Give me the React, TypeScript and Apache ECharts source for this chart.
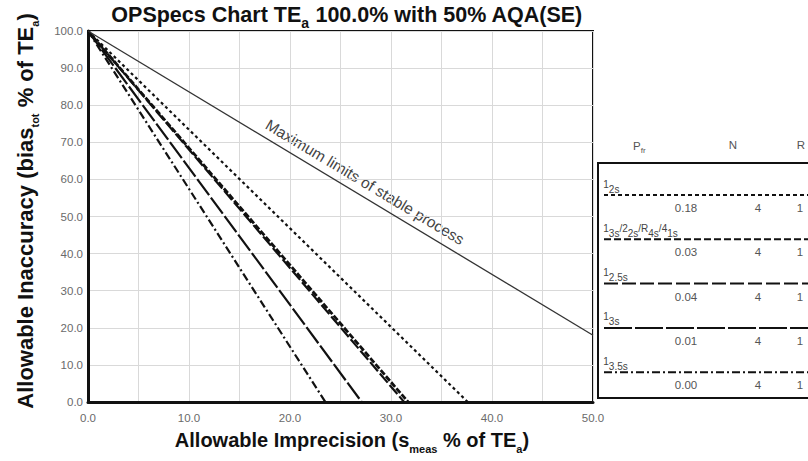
import React, { useEffect, useRef } from "react";
import * as echarts from "echarts";

// ---- data ----
const xTickValues = [0, 10, 20, 30, 40, 50];
const yTickValues = [0, 10, 20, 30, 40, 50, 60, 70, 80, 90, 100];
const ruleLabels = [
  "{g| }{sup|1}{sub|2s}",
  "{g| }{sup|1}{sub|3s}{sup|/2}{sub|2s}{sup|/R}{sub|4s}{sup|/4}{sub|1s}",
  "{g| }{sup|1}{sub|2.5s}",
  "{g| }{sup|1}{sub|3s}",
  "{g| }{sup|1}{sub|3.5s}",
];
const rulePfr = ["0.18", "0.03", "0.04", "0.01", "0.00"];
const ruleN = ["4", "4", "4", "4", "4"];
const ruleR = ["1", "1", "1", "1", "1"];
// operating lines: start (imprecision 0, inaccuracy 100) -> end (imprecision, inaccuracy 0)
const ruleStartInaccuracy = [100, 100, 100, 100, 100];
const ruleEndImprecision = [37.6, 31.7, 31.3, 27.1, 23.5];
// maximum limits of stable process
const stableImprecision = [0, 50];
const stableInaccuracy = [100, 18];

const FONT = "'Liberation Sans', Arial, Helvetica, sans-serif";

const chartDash: number[][] = [
  [3, 3],
  [6, 2],
  [12, 3],
  [20, 3],
  [8, 3, 2, 3],
];
const chartWidth = [2.2, 2.8, 2.2, 2.2, 2.2];
const legendDash: number[][] = [
  [4, 3],
  [7, 3],
  [14, 4],
  [28, 3],
  [8, 3, 2, 3],
];

export default function App() {
  const ref = useRef<HTMLDivElement>(null);
  useEffect(() => {
    if (!ref.current) return;
    const chart = echarts.init(ref.current, undefined, { renderer: "svg" });

    const series: any[] = ruleEndImprecision.map((xe, i) => ({
      type: "line",
      data: [
        [0, ruleStartInaccuracy[i]],
        [xe, 0],
      ],
      symbol: "none",
      lineStyle: { color: "#111", width: chartWidth[i], type: chartDash[i] },
      z: 3,
    }));
    series.push({
      type: "line",
      data: stableImprecision.map((x, i) => [x, stableInaccuracy[i]]),
      symbol: "none",
      lineStyle: { color: "#333", width: 1.3, type: "solid" },
      z: 3,
    });

    const rowY0 = 195;
    const rowStep = 44.3;
    const legendGraphics: any[] = [];
    ruleLabels.forEach((lab, i) => {
      const ly = rowY0 + i * rowStep;
      legendGraphics.push({
        type: "line",
        shape: { x1: 604, y1: ly, x2: 808, y2: ly },
        style: { stroke: "#111", lineWidth: 2, lineDash: legendDash[i] },
      });
      legendGraphics.push({
        type: "text",
        x: 603,
        y: ly - 1,
        style: {
          text: lab,
          align: "left",
          verticalAlign: "bottom",
          fill: "#444",
          fontFamily: FONT,
          rich: {
            g: { fontSize: 1, lineHeight: 15, verticalAlign: "middle", fontFamily: FONT },
            sup: { fontSize: 10, lineHeight: 10, verticalAlign: "top", fill: "#444", fontFamily: FONT },
            sub: { fontSize: 10, lineHeight: 10, verticalAlign: "bottom", fill: "#444", fontFamily: FONT },
          },
        },
      });
      const vals = [rulePfr[i], ruleN[i], ruleR[i]];
      const xs = [686, 758, 800];
      vals.forEach((v, k) => {
        legendGraphics.push({
          type: "text",
          x: xs[k],
          y: ly + 13,
          style: {
            text: v,
            align: "center",
            verticalAlign: "middle",
            fill: "#555",
            fontSize: 11.5,
            fontFamily: FONT,
          },
        });
      });
    });

    const option: any = {
      animation: false,
      backgroundColor: "#fff",
      grid: {
        left: 88,
        right: 215,
        top: 31,
        bottom: 59,
        show: true,
        borderColor: "#111",
        borderWidth: 2,
        backgroundColor: "#fff",
      },
      xAxis: {
        type: "value",
        min: 0,
        max: 50,
        interval: 5,
        axisLine: { show: true, onZero: false, lineStyle: { color: "#111", width: 3 } },
        axisTick: { show: false },
        axisLabel: {
          color: "#6a6a6a",
          fontSize: 11.5,
          fontFamily: FONT,
          margin: 10,
          formatter: (v: number) => (xTickValues.includes(v) ? v.toFixed(1) : ""),
        },
        splitLine: { show: true, lineStyle: { color: "#d9d9d9", width: 1 } },
      },
      yAxis: {
        type: "value",
        min: 0,
        max: 100,
        interval: 10,
        axisLine: { show: true, onZero: false, lineStyle: { color: "#111", width: 3 } },
        axisTick: { show: false },
        axisLabel: {
          color: "#6a6a6a",
          fontSize: 11.5,
          fontFamily: FONT,
          margin: 5,
          formatter: (v: number) => (yTickValues.includes(v) ? v.toFixed(1) : ""),
        },
        splitLine: { show: true, lineStyle: { color: "#d9d9d9", width: 1 } },
      },
      series,
      graphic: [
        {
          type: "text",
          x: 347,
          y: 15,
          style: {
            text: "{t|OPSpecs Chart TE}{sub|a}{t| 100.0% with 50% AQA(SE)}",
            align: "center",
            verticalAlign: "middle",
            fontFamily: FONT,
            rich: {
              t: { fontSize: 21.5, fontWeight: "bold", lineHeight: 30, verticalAlign: "middle", fill: "#111", fontFamily: FONT },
              sub: { fontSize: 14, fontWeight: "bold", lineHeight: 14, verticalAlign: "bottom", fill: "#111", fontFamily: FONT },
            },
          },
        },
        {
          type: "text",
          x: 352,
          y: 440,
          style: {
            text: "{t|Allowable Imprecision (s}{sub|meas}{t| % of TE}{sub|a}{t|)}",
            align: "center",
            verticalAlign: "middle",
            fontFamily: FONT,
            rich: {
              t: { fontSize: 20, fontWeight: "bold", lineHeight: 28, verticalAlign: "middle", fill: "#111", fontFamily: FONT },
              sub: { fontSize: 11, fontWeight: "bold", lineHeight: 11, verticalAlign: "bottom", fill: "#111", fontFamily: FONT },
            },
          },
        },
        {
          type: "text",
          x: 25,
          y: 211,
          rotation: Math.PI / 2,
          style: {
            text: "{t|Allowable Inaccuracy (bias}{sub|tot}{t| % of TE}{sub|a}{t|)}",
            align: "center",
            verticalAlign: "middle",
            fontFamily: FONT,
            rich: {
              t: { fontSize: 22, fontWeight: "bold", lineHeight: 30, verticalAlign: "middle", fill: "#111", fontFamily: FONT },
              sub: { fontSize: 11, fontWeight: "bold", lineHeight: 11, verticalAlign: "bottom", fill: "#111", fontFamily: FONT },
            },
          },
        },
        {
          type: "text",
          x: 365,
          y: 182,
          rotation: -0.54,
          style: {
            text: "Maximum limits of stable process",
            align: "center",
            verticalAlign: "middle",
            fill: "#444",
            fontSize: 15.5,
            fontFamily: FONT,
          },
        },
        {
          type: "rect",
          shape: { x: 598, y: 163, width: 240, height: 235 },
          style: { fill: "none", stroke: "#111", lineWidth: 2 },
        },
        {
          type: "text",
          x: 633,
          y: 146,
          style: {
            text: "{p|P}{sub|fr}",
            align: "left",
            verticalAlign: "middle",
            fontFamily: FONT,
            rich: {
              p: { fontSize: 11.5, lineHeight: 16, verticalAlign: "middle", fill: "#555", fontFamily: FONT },
              sub: { fontSize: 8, lineHeight: 8, verticalAlign: "bottom", fill: "#555", fontFamily: FONT },
            },
          },
        },
        {
          type: "text",
          x: 733,
          y: 145,
          style: { text: "N", align: "center", verticalAlign: "middle", fill: "#555", fontSize: 11.5, fontFamily: FONT },
        },
        {
          type: "text",
          x: 801,
          y: 145,
          style: { text: "R", align: "center", verticalAlign: "middle", fill: "#555", fontSize: 11.5, fontFamily: FONT },
        },
        ...legendGraphics,
      ],
    };
    chart.setOption(option);
    return () => chart.dispose();
  }, []);

  return (
    <div
      ref={ref}
      style={{ position: "fixed", left: 0, top: 0, width: 808, height: 461, background: "#fff" }}
    />
  );
}
